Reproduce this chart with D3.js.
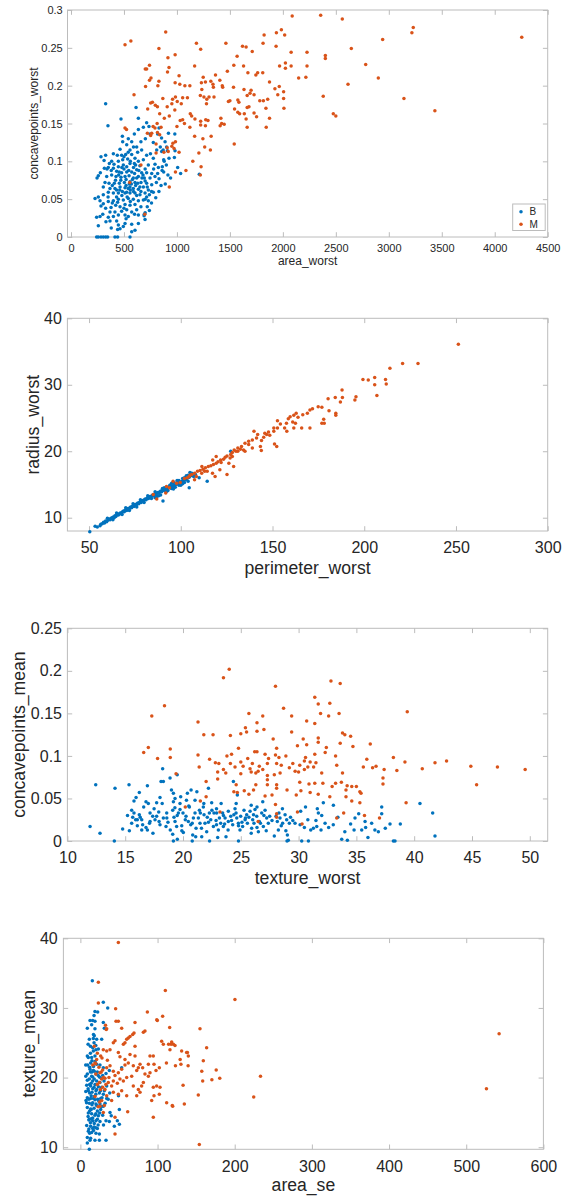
<!DOCTYPE html>
<html lang="en">
<head>
<meta charset="utf-8">
<script src="https://d3js.org/d3.v7.min.js"></script>
<style>
  body { margin: 0; background: #fff; }
  text { font-family: "Liberation Sans", Arial, Helvetica, sans-serif; fill: #262626; }
</style>
</head>
<body>
<svg id="chart" width="565" height="1200"></svg>
<script>
// ---- data: [x, y] pairs, per panel and class ----
const p1B = [[327,.176],[614,.171],[472,.156],[349,.147],[636,.157],[714,.151],[736,.146],[683,.145],[636,.142],[598,.136],[485,.133],[541,.130],[488,.126],[573,.126],[620,.119],[702,.130],[746,.136],[831,.144],[818,.136],[777,.125],[843,.119],[888,.126],[903,.119],[910,.114],[856,.113],[809,.115],[982,.114],[976,.105],[925,.104],[875,.102],[777,.104],[714,.108],[667,.115],[629,.112],[557,.115],[526,.122],[463,.116],[437,.108],[400,.110],[478,.108],[516,.109],[573,.109],[604,.104],[535,.103],[488,.102],[447,.100],[384,.100],[327,.108],[283,.106],[312,.101],[362,.097],[406,.096],[352,.092],[315,.091],[277,.085],[258,.081],[246,.078],[400,.091],[447,.093],[494,.095],[526,.093],[557,.097],[598,.097],[636,.100],[683,.102],[730,.095],[793,.096],[825,.092],[862,.093],[875,.086],[818,.084],[762,.084],[714,.085],[667,.085],[620,.089],[573,.086],[526,.086],[478,.085],[431,.087],[384,.082],[337,.080],[425,.080],[472,.079],[510,.080],[548,.081],[588,.078],[636,.080],[692,.078],[746,.078],[793,.080],[831,.077],[806,.072],[762,.069],[714,.071],[661,.072],[604,.072],[557,.073],[504,.072],[456,.071],[409,.071],[359,.071],[321,.072],[305,.066],[368,.064],[415,.064],[463,.066],[510,.065],[557,.066],[588,.064],[636,.063],[683,.066],[730,.062],[777,.059],[740,.056],[699,.058],[651,.056],[604,.058],[557,.058],[526,.059],[485,.060],[447,.058],[400,.058],[352,.059],[305,.056],[258,.053],[227,.051],[274,.048],[305,.044],[352,.047],[400,.048],[447,.050],[494,.049],[541,.051],[588,.050],[636,.048],[683,.049],[730,.048],[714,.053],[604,.043],[557,.042],[510,.043],[463,.040],[422,.042],[378,.039],[327,.038],[283,.041],[368,.033],[415,.033],[478,.034],[526,.036],[573,.033],[620,.036],[510,.029],[447,.029],[400,.027],[274,.027],[242,.026],[352,.026],[541,.027],[636,.029],[699,.023],[692,.030],[368,.021],[431,.021],[510,.018],[573,.017],[636,.018],[447,.016],[494,.014],[258,.015],[440,.010],[463,.011],[604,.009],[573,.007],[242,0],[258,0],[283,0],[305,0],[327,0],[346,0],[415,0],[440,0],[557,0],[1035,.084],[1007,.092],[1211,.083],[855,.131],[920,.137],[980,.136],[870,.115],[880,.100],[900,.095],[860,.088],[915,.082],[940,.078],[890,.070],[850,.068],[830,.060],[800,.052],[760,.045],[720,.040],[740,.035],[700,.032],[690,.028],[455,.086],[500,.090],[545,.088],[590,.092],[650,.094],[700,.090],[470,.075],[520,.076],[570,.070],[610,.068],[650,.066],[700,.074],[480,.055],[530,.053],[560,.062],[620,.055],[660,.060],[430,.062],[390,.068],[440,.046],[500,.038],[560,.047],[340,.090],[380,.088],[590,.119],[660,.126],[540,.112],[600,.084],[520,.068],[620,.078],[420,.075],[460,.062],[510,.058],[550,.070],[590,.060],[630,.071],[670,.078],[610,.095],[560,.100],[500,.106],[450,.082],[540,.064],[580,.076],[640,.088],[680,.082],[720,.066],[480,.092],[430,.053],[390,.045],[350,.053],[300,.030],[330,.020],[380,.012],[520,.024],[600,.030],[660,.040],[700,.050],[760,.060],[780,.090],[750,.110]];
const p1M = [[510,.254],[565,.259],[894,.271],[2088,.292],[2357,.293],[2561,.288],[1986,.274],[1939,.270],[1823,.267],[2017,.267],[3231,.277],[3218,.270],[2942,.261],[4255,.264],[1184,.256],[1462,.256],[1224,.248],[830,.249],[1653,.251],[1619,.252],[1813,.256],[1936,.252],[1711,.245],[2078,.244],[2228,.244],[2646,.249],[983,.241],[915,.237],[1568,.239],[2401,.240],[2401,.236],[2024,.230],[2024,.223],[1969,.226],[2078,.226],[2228,.226],[2782,.228],[741,.227],[701,.222],[714,.222],[1167,.226],[925,.224],[1537,.227],[1629,.226],[1476,.219],[911,.218],[1670,.217],[1745,.214],[1762,.217],[1810,.217],[1364,.214],[1248,.211],[2149,.210],[2217,.211],[2901,.210],[1020,.213],[755,.210],[741,.207],[830,.206],[983,.204],[1231,.204],[1269,.205],[1320,.206],[1405,.207],[1874,.205],[2615,.202],[704,.199],[820,.200],[1027,.202],[1075,.200],[1122,.200],[1340,.202],[1428,.200],[1534,.198],[1633,.195],[1700,.194],[1925,.196],[1966,.199],[2007,.192],[1235,.195],[1344,.198],[1432,.198],[595,.188],[867,.183],[959,.182],[986,.185],[1099,.184],[1221,.187],[1255,.185],[1282,.182],[1303,.185],[1350,.185],[1054,.184],[1728,.188],[1663,.187],[1690,.190],[1816,.180],[1857,.182],[1952,.188],[2007,.183],[2381,.186],[3143,.183],[752,.177],[769,.178],[796,.174],[908,.172],[952,.176],[1003,.179],[1041,.176],[1279,.176],[1500,.180],[1486,.179],[1575,.181],[1585,.178],[1663,.171],[1680,.172],[1782,.180],[1840,.170],[2010,.170],[724,.169],[816,.172],[837,.163],[980,.168],[1126,.163],[1139,.160],[1544,.169],[1575,.165],[1592,.163],[1636,.163],[1728,.164],[1752,.159],[1874,.157],[2476,.163],[2500,.160],[3435,.167],[881,.157],[928,.160],[1031,.154],[1054,.155],[1170,.156],[1224,.153],[1272,.155],[1293,.154],[1415,.157],[1422,.150],[1446,.149],[1408,.147],[1653,.156],[1663,.145],[1843,.145],[510,.144],[524,.142],[775,.146],[793,.144],[813,.150],[850,.145],[816,.138],[837,.135],[1000,.146],[1071,.150],[1122,.145],[1224,.148],[1269,.147],[1167,.133],[1245,.130],[1323,.133],[721,.137],[762,.137],[752,.134],[803,.123],[908,.118],[962,.124],[986,.126],[952,.120],[973,.117],[1020,.112],[1262,.119],[1316,.115],[1541,.123],[1207,.111],[877,.112],[803,.111],[918,.113],[1150,.100],[986,.086],[1085,.088],[1221,.082],[1228,.093],[928,.066],[554,.072],[660,.095],[697,.030]];

const p2B = [[50.4,7.9],[53.3,8.7],[54.5,8.6],[56.4,9.0],[57.2,9.1],[57.9,9.3],[58.4,9.2],[59.0,9.5],[59.6,9.4],[60.3,9.6],[60.9,9.8],[61.5,9.7],[62.0,9.9],[62.6,10.0],[63.2,10.1],[63.7,10.0],[64.1,10.3],[64.6,10.2],[65.1,10.4],[65.5,10.5],[66.0,10.4],[66.5,10.6],[67.0,10.7],[67.4,10.6],[67.9,10.8],[68.3,10.9],[68.8,11.0],[69.2,10.9],[69.6,11.1],[70.1,11.2],[70.5,11.1],[71.0,11.3],[71.4,11.4],[71.8,11.3],[72.3,11.5],[72.7,11.6],[73.2,11.5],[73.6,11.7],[74.0,11.8],[74.5,11.7],[74.9,11.9],[75.3,12.0],[75.8,11.9],[76.2,12.1],[76.6,12.2],[77.1,12.1],[77.5,12.3],[77.9,12.4],[78.4,12.3],[78.8,12.5],[79.3,12.6],[79.7,12.5],[80.2,12.7],[80.6,12.8],[81.1,12.7],[81.5,12.9],[82.0,13.0],[82.4,12.9],[82.9,13.1],[83.3,13.2],[83.8,13.1],[84.3,13.3],[84.7,13.4],[85.2,13.3],[85.7,13.5],[86.1,13.6],[86.6,13.5],[87.1,13.7],[87.6,13.8],[88.1,13.7],[88.6,13.9],[89.1,14.0],[89.6,13.9],[90.1,14.1],[90.6,14.2],[91.1,14.1],[91.6,14.3],[92.2,14.4],[92.7,14.3],[93.2,14.5],[93.8,14.6],[94.3,14.5],[94.9,14.7],[95.5,14.8],[96.0,14.7],[96.6,14.9],[97.2,15.0],[97.8,15.1],[98.4,15.2],[99.0,15.3],[99.6,15.2],[100.3,15.4],[100.9,15.5],[101.6,15.6],[102.3,15.7],[103.0,15.8],[103.8,16.0],[104.6,16.1],[105.4,16.3],[106.2,16.4],[107.0,16.2],[90.3,12.5],[86.0,13.0],[104.6,14.5],[114.4,15.5],[110.0,16.0],[127.2,20.0],[96.0,15.3],[99.0,14.9],[98.0,15.6],[101.0,15.9],[102.0,15.3],[104.0,16.4],[92.5,14.0],[95.0,15.2],[56,8.8],[60,9.9],[63,9.7],[65,10.7],[68,10.5],[70,11.5],[72,11.1],[74,12.1],[76,11.6],[78,12.7],[80,12.3],[82,13.3],[84,12.9],[86,13.9],[88,13.3],[90,14.4],[92,13.9],[94,14.9],[96,14.3],[98,15.4],[100,14.9],[102,16.0],[104,15.5],[106,16.7],[108,16.5],[89,13.4],[93,14.1],[97,14.6],[101,15.1],[103,16.3],[105,16.8],[87,13.2],[91,14.5],[95,14.4],[99,15.6]];
const p2M = [[251.3,36.1],[220.9,33.2],[229.3,33.2],[214.0,32.5],[199.3,30.8],[202.2,30.7],[205.7,31.1],[205.7,30.0],[206.9,28.4],[211.6,30.8],[212.0,30.1],[187.9,29.2],[188.1,28.1],[180.3,27.9],[184.2,28.1],[187.0,27.4],[180.8,26.1],[184.5,25.7],[184.5,25.4],[195.5,28.2],[194.9,27.7],[174.9,26.7],[176.9,26.6],[170.4,26.2],[171.8,26.4],[169.0,25.7],[166.5,25.5],[163.9,25.1],[161.6,25.4],[159.6,25.2],[162.9,25.7],[158.6,24.9],[161.0,24.4],[162.5,24.2],[157.6,24.2],[154.3,24.1],[152.7,24.6],[152.7,23.5],[156.6,23.5],[150.7,23.5],[150.7,23.0],[147.8,22.9],[146.8,22.5],[145.2,22.1],[145.8,22.7],[157.8,23.0],[161.6,23.5],[165.9,23.5],[170.4,23.5],[177.9,24.8],[178.2,24.2],[176.9,24.2],[141.9,22.5],[141.3,22.0],[139.0,21.7],[137.0,21.5],[135.0,21.2],[137.0,21.0],[133.1,20.7],[131.1,20.5],[129.1,20.2],[130.1,20.0],[128.1,19.8],[127.2,19.5],[125.2,19.3],[124.2,19.1],[123.3,18.8],[121.7,18.7],[120.3,18.4],[119.3,18.2],[117.8,18.0],[116.4,17.8],[115.0,17.7],[113.4,17.5],[112.1,17.3],[110.5,17.1],[109.1,17.0],[107.5,16.7],[106.0,16.5],[104.6,16.2],[103.6,16.0],[125.2,16.5],[118.7,16.2],[128.8,17.7],[126.2,18.2],[128.1,19.2],[131.1,20.0],[134.2,20.2],[139.0,20.5],[143.4,20.7],[143.9,20.1],[151.1,21.1],[152.3,20.7],[135.0,20.0],[114.4,17.0],[111.4,16.7],[108.5,16.2],[107.5,15.7],[117.3,16.7],[121.3,17.2],[93.8,14.5],[92.2,14.7],[97.7,15.2],[99.7,15.3],[85.0,13.5],[86.9,12.8],[91.8,13.7],[95.8,15.5],[111.5,17.7],[119.3,19.2],[117.4,18.7],[139.9,23.0],[148.5,22.4],[144.0,21.6],[132.5,20.3],[126.9,19.0],[122.0,18.3],[113.0,17.0],[105.0,16.4],[102.0,15.9]];

const p3B = [[12.45,.066],[14.12,.062],[15.33,.066],[16.92,.065],[16.22,.057],[15.94,.051],[15.76,.047],[11.96,.017],[12.82,.009],[14.06,0],[14.78,.014],[15.36,.012],[15.56,.021],[15.65,.028],[15.56,.036],[15.76,.033],[16.22,.031],[16.05,.025],[16.05,.018],[16.43,.025],[16.51,.019],[16.43,.013],[16.8,.046],[17.0,.044],[17.15,.033],[17.15,.023],[16.92,.013],[17.38,.029],[17.58,.025],[17.72,.029],[17.72,.045],[18.01,.051],[17.93,.023],[18.1,.070],[18.3,.070],[18.24,.085],[18.01,.019],[18.3,.027],[18.53,.017],[18.59,.033],[18.88,.074],[19.17,.056],[19.31,.050],[19.17,.046],[19.11,.036],[19.22,.028],[19.31,.023],[19.45,.017],[19.11,.008],[19.17,0],[19.51,.002],[19.6,.033],[19.74,.037],[19.74,.044],[19.89,.018],[20.03,.010],[20.26,.029],[20.38,.056],[20.46,.023],[20.55,.040],[20.67,.019],[20.84,.007],[21.04,.048],[21.04,.033],[21.13,.015],[21.33,.027],[21.42,.036],[21.47,.021],[21.62,.005],[21.76,.040],[21.82,.031],[21.9,.021],[22.05,.011],[22.28,.033],[22.4,.025],[22.48,.045],[22.63,.017],[22.68,.033],[22.86,.024],[22.91,.033],[23.06,.013],[23.15,.027],[23.26,.021],[23.43,.033],[23.49,.017],[23.64,.027],[23.72,.005],[23.92,.023],[23.92,.035],[24.13,.029],[24.3,.019],[24.36,.070],[24.5,.038],[24.59,.033],[24.65,.027],[24.79,.021],[24.93,.013],[24.99,.029],[25.16,.017],[25.28,.036],[25.37,.025],[25.51,.031],[25.57,.021],[25.8,.035],[25.94,.015],[26.03,.025],[26.14,.021],[26.23,.037],[26.38,.029],[26.52,.011],[26.6,.023],[26.81,.033],[26.95,.017],[27.1,.036],[27.24,.027],[27.38,.021],[28.05,.029],[28.16,.023],[28.25,.013],[28.39,.027],[28.62,.021],[28.83,.031],[28.97,.025],[29.03,.007],[29.2,.021],[29.11,.001],[29.69,.021],[30.27,0],[30.85,0],[30.13,.019],[30.18,.035],[31.05,.013],[31.28,.015],[31.57,.017],[31.62,.038],[31.71,.033],[31.94,.013],[32.14,.045],[32.29,.021],[33.01,.042],[33.73,.002],[34.22,.001],[34.88,.027],[35.75,.023],[36.32,.021],[36.9,.011],[37.19,.040],[37.19,.032],[37.91,.020],[38.2,0],[38.34,0],[34.8,.013],[35.46,.013],[38.8,.020],[40.5,.044],[41.6,.033],[41.8,.006],[19.5,.030],[20.2,.025],[20.8,.021],[21.5,.033],[22.1,.028],[22.9,.019],[23.5,.030],[24.2,.024],[24.8,.018],[25.4,.027],[26.1,.031],[26.7,.021],[27.5,.029],[28.3,.033],[19.9,.012],[21.1,.005],[22.5,.036],[23.9,.013],[25.9,.009],[27.2,.012],[20.5,.041],[21.8,.044],[24.6,.044],[26.4,.040],[17.5,.038],[18.7,.022],[16.8,.016],[15.9,.025],[29.5,.024],[30.5,.016],[31.5,.024],[32.6,.016],[33.4,.028],[34.5,.020],[35.8,.016],[36.6,.013],[18.2,.044],[19.8,.052],[21.2,.058],[22.2,.062],[24.7,.054],[26.9,.046],[20.7,.060],[28.9,.012],[23.0,.004],[27.9,.006],[20.8,0],[22.3,0],[24.8,0],[29.0,0],[19.5,.078],[16.3,.028],[17.1,.021],[17.9,.034],[18.6,.027],[19.3,.039],[20.0,.033],[20.9,.027],[21.6,.015],[22.2,.022],[22.9,.038],[23.6,.020],[24.4,.031],[25.1,.022],[25.7,.028],[26.4,.016],[27.0,.030],[27.7,.024],[28.5,.018],[29.3,.028],[30.8,.025],[32.0,.030],[33.0,.019],[34.0,.011],[35.2,.032],[36.0,.004],[37.5,.015],[17.4,.009],[18.9,.013],[20.3,.048],[23.3,.044],[25.9,.042],[28.6,.038],[30.6,.040],[19.0,.060],[16.6,.040],[15.2,.030]];
const p3M = [[24.0,.202],[23.5,.192],[32.8,.188],[33.6,.185],[28.0,.182],[31.4,.169],[32.7,.162],[31.7,.161],[18.4,.159],[28.7,.156],[31.9,.150],[33.5,.150],[39.4,.152],[25.7,.150],[17.3,.147],[26.9,.147],[29.4,.147],[32.6,.147],[21.3,.140],[30.7,.141],[26.4,.139],[31.4,.138],[25.4,.133],[27.0,.131],[25.5,.128],[26.4,.129],[29.4,.128],[21.8,.125],[22.6,.125],[24.1,.124],[25.0,.126],[33.8,.127],[34.0,.125],[34.5,.123],[30.4,.120],[31.7,.121],[27.8,.120],[31.7,.116],[33.6,.115],[36.2,.114],[17.0,.110],[18.9,.108],[24.8,.109],[28.1,.109],[29.9,.112],[30.7,.113],[32.4,.110],[34.7,.111],[26.2,.105],[26.4,.105],[16.6,.104],[31.4,.102],[32.3,.104],[21.3,.101],[23.8,.100],[24.2,.102],[27.1,.102],[28.0,.101],[28.9,.100],[33.2,.100],[17.8,.097],[18.9,.098],[22.3,.096],[25.6,.097],[27.4,.097],[28.3,.098],[30.6,.098],[35.9,.096],[38.2,.098],[30.5,.094],[31.0,.093],[31.5,.092],[39.2,.093],[41.8,.092],[42.8,.094],[22.8,.092],[23.1,.091],[24.1,.091],[25.0,.093],[25.2,.088],[26.0,.091],[26.6,.088],[27.3,.091],[28.1,.091],[28.5,.089],[29.5,.091],[30.1,.089],[33.3,.089],[44.9,.088],[47.2,.087],[49.6,.084],[21.4,.087],[24.5,.087],[23.5,.084],[25.8,.085],[26.9,.084],[29.2,.086],[29.7,.082],[30.5,.084],[30.8,.087],[31.3,.087],[35.6,.087],[36.4,.086],[36.7,.088],[37.4,.084],[38.5,.083],[40.7,.085],[23.0,.081],[23.7,.080],[26.3,.080],[27.3,.077],[27.9,.078],[28.4,.080],[25.0,.079],[25.9,.081],[26.5,.082],[30.0,.081],[32.0,.080],[33.8,.080],[19.4,.079],[23.0,.073],[24.6,.066],[26.3,.066],[27.3,.066],[28.1,.066],[30.1,.069],[30.9,.067],[31.4,.068],[32.1,.068],[32.9,.064],[33.2,.068],[33.7,.069],[34.2,.065],[34.6,.064],[35.0,.064],[37.3,.074],[37.3,.067],[45.4,.066],[27.3,.072],[28.1,.062],[26.1,.060],[24.4,.058],[24.7,.057],[25.3,.059],[25.7,.055],[29.0,.060],[29.8,.054],[30.2,.059],[31.0,.057],[31.7,.055],[32.7,.052],[34.1,.060],[35.3,.058],[35.4,.056],[27.1,.053],[27.7,.054],[28.0,.043],[34.1,.052],[34.6,.047],[35.3,.045],[39.3,.045],[22.0,.052],[22.0,.070],[20.2,.040],[21.5,.047],[29.9,.034],[28.1,.032],[28.1,.028],[33.9,.033],[33.3,.027],[35.7,.030],[37.0,.027],[26.5,.023],[30.3,.020],[23.2,.034]];

const p4B = [[15.5,33.9],[29.7,30.8],[35.4,30.0],[18.9,29.5],[22.4,29.4],[17.7,28.9],[12.5,28.2],[15.9,28.2],[18.9,28.1],[14.6,27.6],[9.0,27.1],[18.9,27.0],[29.7,27.9],[31.0,27.1],[11.6,25.5],[16.8,25.6],[21.1,25.5],[27.6,25.5],[17.7,25.0],[20.2,24.0],[23.3,24.1],[16.8,23.8],[10.3,22.9],[14.6,22.9],[18.9,23.1],[9.4,21.8],[6.9,21.8],[13.3,22.1],[21.1,21.9],[25.4,21.8],[29.7,21.4],[53.5,21.4],[12.5,21.2],[16.8,21.0],[9.0,20.5],[14.6,20.2],[20.2,20.5],[24.6,20.1],[28.9,20.3],[33.2,20.6],[37.5,21.0],[11.6,19.8],[15.9,19.5],[21.1,19.5],[25.4,19.3],[30.6,19.5],[8.2,18.9],[13.3,18.8],[17.7,18.6],[23.3,18.7],[27.6,18.6],[34.1,18.8],[10.3,18.1],[15.1,17.9],[20.2,18.1],[24.6,17.8],[29.7,17.6],[9.0,17.1],[13.3,17.0],[18.1,17.3],[22.4,16.9],[26.3,17.0],[34.1,17.0],[7.3,16.7],[11.6,16.3],[15.9,16.4],[20.2,16.2],[25.4,16.2],[29.7,15.9],[9.0,15.7],[13.3,15.5],[17.7,15.6],[22.0,15.2],[26.3,15.4],[50.5,15.4],[10.3,14.9],[14.6,14.8],[18.9,14.6],[23.3,14.5],[28.9,14.6],[38.4,15.0],[11.6,14.0],[15.9,13.8],[20.2,13.8],[25.4,13.7],[33.2,13.8],[37.5,13.7],[8.2,13.1],[13.3,13.0],[17.7,12.9],[22.0,12.7],[50.5,13.3],[47.9,13.8],[10.3,12.3],[14.6,12.1],[20.2,12.0],[24.6,11.9],[9.0,11.4],[13.3,11.3],[12.5,11.0],[18.9,11.0],[24.6,11.0],[33.2,11.0],[11.6,9.7],[9.0,10.6],[49.4,17.4],[12,19.0],[14,17.4],[16,18.4],[18,19.8],[20,17.6],[13,20.8],[17,21.6],[19,16.8],[11,16.9],[15,16.1],[21,18.3],[12,15.2],[16,14.2],[10,18.4],[14,19.2],[18,20.9],[22,20.8],[24,16.6],[26,18.1],[13,13.5],[17,12.4],[11,12.6],[15,22.4],[19,22.3],[9,19.6],[7,20.2],[8,16.4],[10,14.4],[12,21.5],[16,20.1],[20,14.8],[23,13.2],[27,15.8],[13,24.5],[17,26.2],[20,24.6],[9,23.1],[7,18.0],[11,13.9],[14,15.4],[15,20.8],[19,19.0],[23,20.3],[27,19.9],[31,18.1],[12,17.8],[17,17.0],[21,16.0],[25,14.9],[14,14.1],[18,13.4],[22,14.0],[16,12.7],[12,12.0],[20,12.8],[28,17.1],[32,16.3],[36,16.9],[30,13.2],[40,14.5],[44,13.0],[38,17.8],[13,23.5],[16,24.3],[10,24.8],[18,26.0]];
const p4M = [[49.2,39.4],[23.3,33.7],[110.1,32.5],[23.3,30.7],[45.7,29.9],[46.2,28.1],[49.2,28.1],[86.8,29.4],[106.6,28.8],[99.7,28.2],[70.8,27.9],[53.5,27.1],[115.7,27.2],[83.7,26.7],[81.6,26.5],[69.5,26.4],[67.8,26.2],[34.1,27.0],[64.3,25.9],[62.1,25.7],[60.0,25.5],[57.8,25.0],[55.7,24.8],[44.9,25.3],[42.7,25.0],[38.4,24.0],[34.1,23.8],[29.7,24.0],[105.3,25.2],[107.5,24.8],[118.3,25.1],[120.5,24.8],[122.6,24.6],[155.0,27.0],[163.6,24.3],[116.1,24.0],[137.7,23.6],[139.9,23.1],[131.2,23.8],[90.2,23.1],[94.5,23.1],[70.8,24.5],[70.8,23.1],[49.2,23.6],[51.3,23.0],[57.8,22.6],[64.3,23.3],[62.1,22.1],[77.3,21.9],[80.7,21.4],[75.1,21.4],[68.6,21.7],[73.0,21.0],[88.1,21.9],[95.4,21.9],[102.3,21.4],[98.0,21.0],[90.2,20.7],[83.7,20.5],[57.8,21.8],[53.5,21.2],[49.2,20.7],[44.9,20.3],[42.7,20.9],[38.4,21.7],[34.1,21.4],[28.9,21.1],[25.4,20.7],[21.1,22.6],[18.9,22.1],[26.3,23.1],[27.6,19.8],[24.6,19.3],[31.9,19.9],[36.2,19.3],[40.5,18.8],[42.7,19.5],[47.9,19.2],[51.3,19.8],[55.7,19.5],[60.0,20.0],[66.5,20.2],[68.6,18.8],[75.1,18.3],[79.4,18.8],[81.6,19.3],[88.1,20.2],[94.5,18.6],[98.8,18.8],[103.2,18.6],[102.3,17.6],[95.4,17.4],[92.4,16.7],[77.3,17.9],[73.0,17.4],[60.0,17.4],[53.5,18.1],[49.2,17.6],[42.7,17.9],[40.5,16.7],[34.1,17.4],[31.9,18.3],[27.6,16.7],[25.4,15.9],[29.7,15.0],[44.9,14.3],[44.9,11.9],[61.3,15.1],[94.5,14.3],[111.8,16.4],[119.6,15.9],[134.7,16.2],[154.1,10.4],[152.8,17.5],[159.3,22.4],[158.5,19.5],[157.3,20.9],[176.0,21.1],[170.4,19.7],[180.6,19.9],[200.3,31.2],[233.4,20.2],[224.6,17.2],[133.1,18.9],[129.3,22.6],[130.3,21.9],[139.6,21.7],[138.7,23.6],[123.2,21.7],[117.6,24.8],[114.3,24.8],[111.5,22.1],[119.1,16.0],[526.2,18.4],[542.6,26.3],[99.0,28.3],[20,20.5],[22,19.0],[24,21.5],[26,18.3],[28,22.8],[30,20.0],[18,24.5],[22,23.5],[25,16.5],[33,19.0],[35,22.5],[37,20.0],[19,17.3],[23,15.8],[27,20.8],[31,16.0],[29,18.6],[16,21.8],[20,22.0],[32.6,27.5],[33.5,26.9]];

// ---- ticks and labels ----
const p1XTicks = [0,500,1000,1500,2000,2500,3000,3500,4000,4500];
const p1YTicks = [0,0.05,0.1,0.15,0.2,0.25,0.3];
const p1YTickLabels = ["0","0.05","0.1","0.15","0.2","0.25","0.3"];
const p2XTicks = [50,100,150,200,250,300];
const p2YTicks = [10,20,30,40];
const p3XTicks = [10,15,20,25,30,35,40,45,50];
const p3YTicks = [0,0.05,0.1,0.15,0.2,0.25];
const p3YTickLabels = ["0","0.05","0.1","0.15","0.2","0.25"];
const p4XTicks = [0,100,200,300,400,500,600];
const p4YTicks = [10,20,30,40];
const classNames = ["B","M"];
const classColors = ["#0072BD","#D95319"];

const svg = d3.select("#chart");
const boxColor = "#bcbcbc";

function drawPanel(p) {
  const x = d3.scaleLinear().domain(p.xDom).range([p.left, p.right]);
  const y = d3.scaleLinear().domain(p.yDom).range([p.bottom, p.top]);
  const g = svg.append("g");
  const tl = 4.8;

  const style = s => {
    s.select(".domain").remove();
    s.selectAll("line").attr("stroke", boxColor);
    s.attr("font-size", p.tickSize).attr("font-family", null);
    s.selectAll("text").attr("fill", "#262626");
  };
  const xFmt = p.xLabels ? (d, i) => p.xLabels[i] : d3.format("~g");
  const yFmt = p.yLabels ? (d, i) => p.yLabels[i] : d3.format("~g");

  g.append("g").attr("transform", `translate(0,${p.bottom})`)
    .call(d3.axisBottom(x).tickValues(p.xTicks).tickFormat(xFmt).tickSizeInner(-tl).tickSizeOuter(0).tickPadding(p.xPad))
    .call(style);
  g.append("g").attr("transform", `translate(0,${p.top})`)
    .call(d3.axisTop(x).tickValues(p.xTicks).tickFormat("").tickSizeInner(-tl).tickSizeOuter(0))
    .call(style);
  g.append("g").attr("transform", `translate(${p.left},0)`)
    .call(d3.axisLeft(y).tickValues(p.yTicks).tickFormat(yFmt).tickSizeInner(-tl).tickSizeOuter(0).tickPadding(p.yPad))
    .call(style);
  g.append("g").attr("transform", `translate(${p.right},0)`)
    .call(d3.axisRight(y).tickValues(p.yTicks).tickFormat("").tickSizeInner(-tl).tickSizeOuter(0))
    .call(style);

  g.append("rect")
    .attr("x", p.left).attr("y", p.top)
    .attr("width", p.right - p.left).attr("height", p.bottom - p.top)
    .attr("fill", "none").attr("stroke", boxColor);

  [p.B, p.M].forEach((pts, k) => {
    g.append("g").selectAll("circle").data(pts).join("circle")
      .attr("cx", d => x(d[0]))
      .attr("cy", d => y(d[1]))
      .attr("r", 1.75)
      .attr("fill", classColors[k]);
  });

  g.append("text")
    .attr("x", (p.left + p.right) / 2).attr("y", p.xLabelY)
    .attr("text-anchor", "middle").attr("font-size", p.labelSize)
    .text(p.xTitle);
  g.append("text")
    .attr("transform", `translate(${p.yLabelX},${(p.top + p.bottom) / 2}) rotate(-90)`)
    .attr("text-anchor", "middle").attr("font-size", p.labelSize)
    .text(p.yTitle);

  if (p.legend) {
    const lg = g.append("g");
    lg.append("rect").attr("x", 512.7).attr("y", 204).attr("width", 32.5).attr("height", 26.5)
      .attr("fill", "#fff").attr("stroke", boxColor);
    classNames.forEach((c, k) => {
      lg.append("circle").attr("cx", 521).attr("cy", 211.7 + k * 12.6).attr("r", 1.75).attr("fill", classColors[k]);
      lg.append("text").attr("x", 529.5).attr("y", 215.3 + k * 12.6).attr("font-size", 10).text(c);
    });
  }
}

drawPanel({ left: 67.5, right: 547.7, top: 10, bottom: 237, xDom: [-33, 4500], yDom: [0, 0.3],
  xTicks: p1XTicks, yTicks: p1YTicks, yLabels: p1YTickLabels, tickSize: 11, labelSize: 12,
  xPad: 7.5, yPad: 4.8, xLabelY: 265, yLabelX: 37.5, xTitle: "area_worst", yTitle: "concavepoints_worst",
  B: p1B, M: p1M, legend: true });
drawPanel({ left: 67.4, right: 547.7, top: 318.3, bottom: 531, xDom: [38.2, 300], yDom: [8, 40],
  xTicks: p2XTicks, yTicks: p2YTicks, tickSize: 16, labelSize: 17.6,
  xPad: 11, yPad: 5.6, xLabelY: 573.5, yLabelX: 39, xTitle: "perimeter_worst", yTitle: "radius_worst",
  B: p2B, M: p2M });
drawPanel({ left: 67.4, right: 547.7, top: 628.3, bottom: 841, xDom: [10, 51.55], yDom: [0, 0.25],
  xTicks: p3XTicks, yTicks: p3YTicks, yLabels: p3YTickLabels, tickSize: 16, labelSize: 17.6,
  xPad: 11, yPad: 5.4, xLabelY: 883.5, yLabelX: 25, xTitle: "texture_worst", yTitle: "concavepoints_mean",
  B: p3B, M: p3M });
drawPanel({ left: 63.4, right: 543.4, top: 938.3, bottom: 1149.3, xDom: [-22, 600], yDom: [9.7, 40],
  xTicks: p4XTicks, yTicks: p4YTicks, tickSize: 16, labelSize: 17.6,
  xPad: 11.5, yPad: 5.7, xLabelY: 1191, yLabelX: 34.5, xTitle: "area_se", yTitle: "texture_mean",
  B: p4B, M: p4M });
</script>
</body>
</html>
